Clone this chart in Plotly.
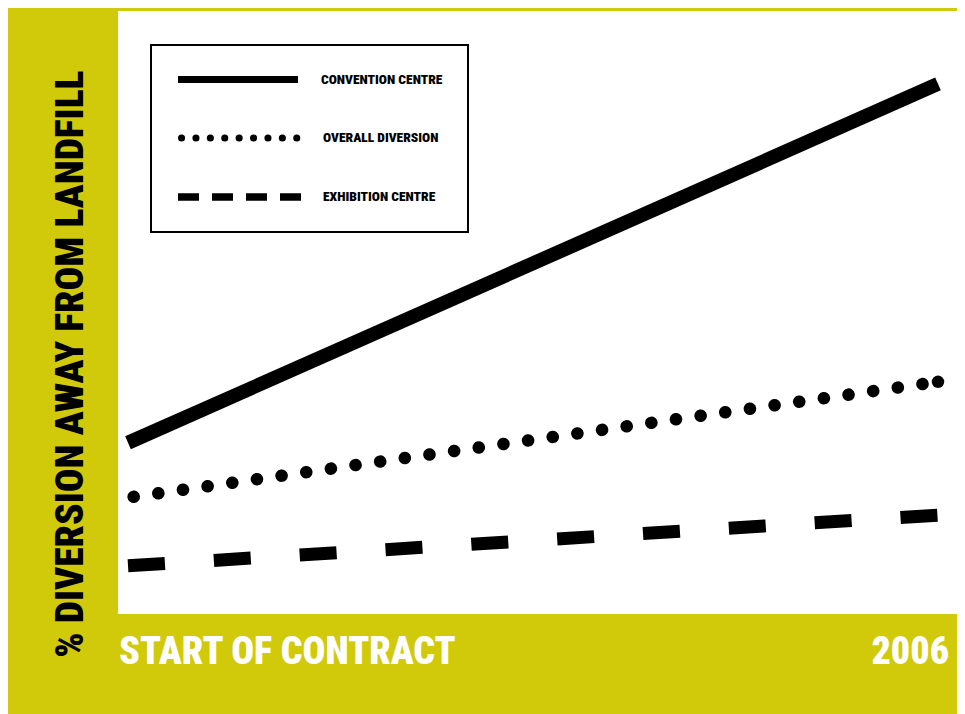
import plotly.graph_objects as go

# ---- data ----
periods = ["START OF CONTRACT", "2006"]
x_pos = [0, 1]
convention_centre = [28.4, 87.9]
overall_diversion = [19.3, 38.5]
exhibition_centre = [8.0, 16.4]
series_names = ["CONVENTION CENTRE", "OVERALL DIVERSION", "EXHIBITION CENTRE"]
y_title = "% DIVERSION AWAY FROM LANDFILL"

YELLOW = "#D0CA0B"
FONT = "Roboto, Open Sans, sans-serif"

W, H = 965, 714
L, R, T, B = 110, 0, 3, 108
pw = W - L - R
ph = H - T - B
OFF = 8  # page body margin


def px(xs):
    return (xs - OFF - L) / pw


def py(ys):
    return (H - B - (ys - OFF)) / ph


DOT_PLOT = "0.1px,24.8px"
DOT_LEG = "0.1px,14.3px"

fig = go.Figure()
fig.add_trace(go.Scatter(x=x_pos, y=convention_centre, mode="lines", name=series_names[0],
                         line=dict(color="black", width=14)))
fig.add_trace(go.Scatter(x=x_pos, y=overall_diversion, mode="lines+markers", name=series_names[1],
                         line=dict(color="black", width=12.5, dash=DOT_PLOT),
                         marker=dict(color="#000000", opacity=1, size=[0, 12.5],
                                     line=dict(width=0, color="#000000"))))
fig.add_trace(go.Scatter(x=x_pos, y=exhibition_centre, mode="lines", name=series_names[2],
                         line=dict(color="black", width=13, dash="37px,49px")))

shapes = [
    dict(type="rect", xref="paper", yref="paper", x0=px(151), x1=px(468), y0=py(232), y1=py(45),
         fillcolor="white", line=dict(color="black", width=2), layer="above"),
    dict(type="line", xref="paper", yref="paper", x0=px(178), x1=px(298), y0=py(79.5), y1=py(79.5),
         line=dict(color="black", width=7), layer="above"),
    dict(type="line", xref="paper", yref="paper", x0=px(181.5), x1=px(297), y0=py(138), y1=py(138),
         line=dict(color="black", width=7, dash=DOT_LEG), layer="above"),
    dict(type="line", xref="paper", yref="paper", x0=px(178), x1=px(301), y0=py(197), y1=py(197),
         line=dict(color="black", width=7.5, dash="21px,13px"), layer="above"),
]

annotations = []
for name, yy, xx in zip(series_names, [79, 137, 196], [319, 321, 321]):
    annotations.append(dict(text=name, xref="paper", yref="paper", x=px(xx), y=py(yy),
                            xanchor="left", align="left", yanchor="middle", showarrow=False,
                            font=dict(family=FONT, size=13.5, color="black", weight=900)))
annotations.append(dict(text=y_title, xref="paper", yref="paper", x=px(69), y=py(364),
                        xanchor="center", yanchor="middle", showarrow=False, textangle=-90,
                        font=dict(family=FONT, size=39.5, color="black", weight=900)))
annotations.append(dict(text=periods[0], xref="paper", yref="paper", x=px(117), y=py(651),
                        xanchor="left", align="left", yanchor="middle", showarrow=False,
                        font=dict(family=FONT, size=38, color="white", weight=900)))
annotations.append(dict(text=periods[1], xref="paper", yref="paper", x=px(951), y=py(651),
                        xanchor="right", align="right", yanchor="middle", showarrow=False,
                        font=dict(family=FONT, size=38, color="white", weight=900)))

fig.update_layout(
    width=W, height=H,
    margin=dict(l=L, r=R, t=T, b=B, pad=0),
    paper_bgcolor=YELLOW, plot_bgcolor="white",
    showlegend=False,
    shapes=shapes, annotations=annotations,
    xaxis=dict(range=[-10 / 810, (pw - 10) / 810], visible=False, fixedrange=True),
    yaxis=dict(range=[0, 100], visible=False, fixedrange=True),
)

post = """
var st = document.createElement('style');
st.textContent = 'svg text { font-stretch: condensed !important; }';
document.head.appendChild(st);
var gd = document.getElementById('{plot_id}');
function roundCaps(){
  gd.querySelectorAll('path').forEach(function(p){
    var d = p.style.strokeDasharray || '';
    if (d.indexOf('0.1') === 0) {
      p.style.strokeLinecap = 'round';
      if (d.indexOf('24.8') >= 0) { p.style.strokeDashoffset = '19.2px'; }
    }
  });
  gd.querySelectorAll('path.point').forEach(function(p){
    p.style.opacity = '1'; p.style.fill = '#000000'; p.style.fillOpacity = '1';
  });
}
roundCaps();
if (gd.on) { gd.on('plotly_afterplot', roundCaps); }
setTimeout(roundCaps, 50);
"""

fig.write_html("out.html", config={"displayModeBar": False}, post_script=post)
